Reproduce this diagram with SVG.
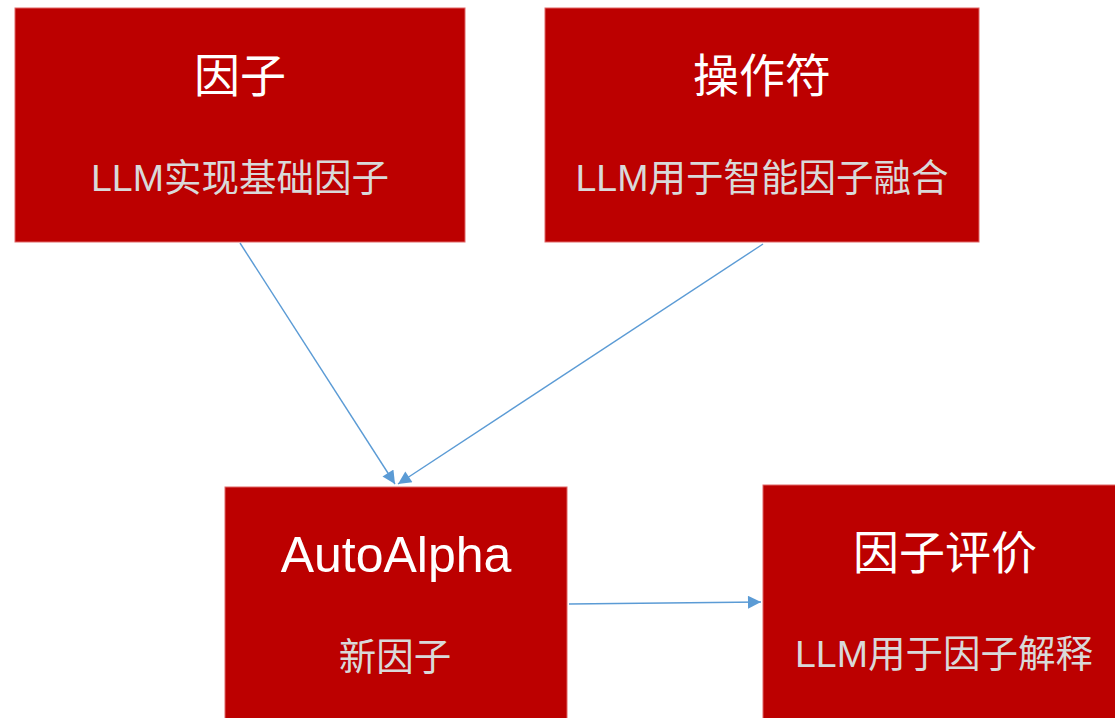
<svg xmlns="http://www.w3.org/2000/svg" width="1115" height="718" viewBox="0 0 1115 718">
  <style>
    .box { fill: #BC0000; stroke: #E06666; stroke-width: 1; }
    .title { fill: #FFFFFF; font-family: "Liberation Sans", "Noto Sans CJK SC", sans-serif; font-size: 46px; text-anchor: middle; }
    .latin { font-size: 50px; }
    .sub { fill: #D9D9D9; font-family: "Liberation Sans", "Noto Sans CJK SC", sans-serif; font-size: 37.5px; text-anchor: middle; }
    .conn { stroke: #5B9BD5; stroke-width: 1.4; fill: none; marker-end: url(#arrow); }
  </style>
  <defs>
    <marker id="arrow" viewBox="0 0 10 10" refX="10" refY="5" markerWidth="14" markerHeight="13" markerUnits="userSpaceOnUse" orient="auto">
      <path d="M0,0 L10,5 L0,10 Z" fill="#5B9BD5"/>
    </marker>
  </defs>
  <rect width="1115" height="718" fill="#FFFFFF"/>
  <g id="node-factor">
    <rect class="box" x="15" y="8" width="450" height="234"/>
    <text class="title" x="240" y="92">因子</text>
    <text class="sub" x="240" y="191">LLM实现基础因子</text>
  </g>
  <g id="node-operator">
    <rect class="box" x="545" y="8" width="434" height="234"/>
    <text class="title" x="762" y="92">操作符</text>
    <text class="sub" x="762" y="191">LLM用于智能因子融合</text>
  </g>
  <g id="node-autoalpha">
    <rect class="box" x="225" y="487" width="342" height="245"/>
    <text class="title latin" x="396" y="572">AutoAlpha</text>
    <text class="sub" x="395" y="670">新因子</text>
  </g>
  <g id="node-eval">
    <rect class="box" x="763" y="485" width="370" height="245"/>
    <text class="title" x="945" y="569">因子评价</text>
    <text class="sub" x="944" y="667">LLM用于因子解释</text>
  </g>
  <g id="connectors">
    <line class="conn" x1="240" y1="243" x2="395" y2="484"/>
    <line class="conn" x1="763" y1="244" x2="398" y2="484"/>
    <line class="conn" x1="569" y1="604" x2="761" y2="602"/>
  </g>
</svg>
